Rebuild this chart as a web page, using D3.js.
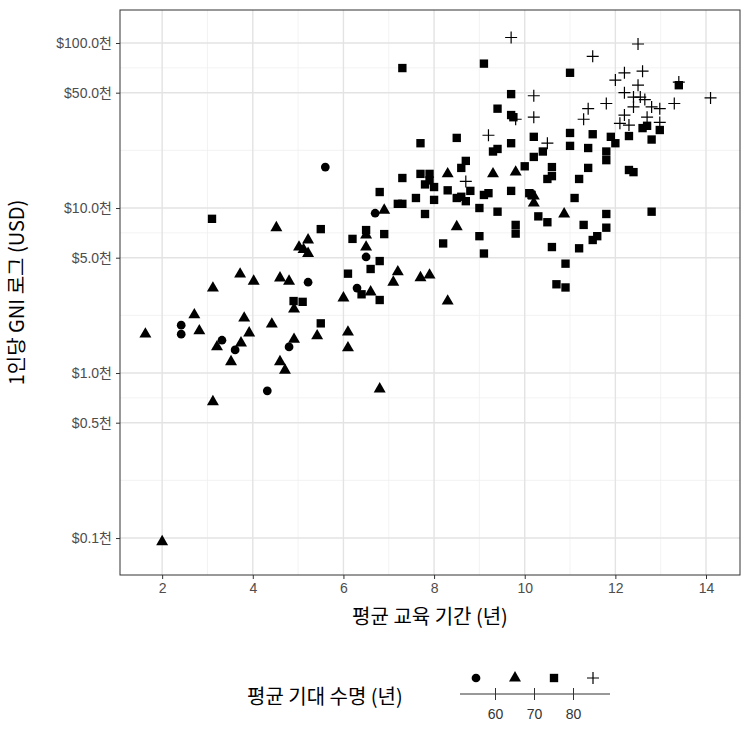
<!DOCTYPE html>
<html><head><meta charset="utf-8">
<script src="https://cdn.jsdelivr.net/npm/d3@7"></script>
<style>body{margin:0;background:#fff}text{font-family:"Noto Sans CJK KR","Noto Sans",sans-serif}</style>
</head><body><svg id="c" width="750" height="750"></svg>
<script>
// Life expectancy bins: 0:<60, 1:60-70, 2:70-80, 3:>80
const lifeBins = ["<60","60-70","70-80",">80"];
const schooling = [
2.42,2.42,3.32,3.61,4.32,4.8,5.22,5.6,6.3,6.5,6.7,
1.63,2.71,2.82,3.12,3.12,3.21,3.52,3.72,3.74,3.81,3.92,4.02,4.42,4.52,4.6,4.6,4.71,4.8,4.91,4.91,5.02,5.12,5.22,5.22,5.42,6.0,6.1,6.1,6.5,6.5,6.6,6.8,6.9,7.1,7.2,7.7,7.9,2.0,8.3,8.3,9.3,9.8,8.5,10.2,10.2,10.87,
3.1,4.9,5.1,5.5,5.5,6.1,6.2,6.4,6.5,6.6,6.8,6.8,6.8,6.9,7.2,7.3,7.3,7.6,7.7,7.8,7.8,7.9,7.9,8.0,8.0,
7.3,9.1,11.0,9.7,9.4,9.7,9.75,8.5,7.7,10.2,9.7,9.3,9.4,11.0,11.5,11.9,12.0,12.3,12.6,12.7,12.8,12.98,13.4,11.0,11.4,11.8,11.8,10.4,10.2,10.0,10.6,10.6,10.5,11.4,11.2,12.3,12.4,8.6,8.7,8.3,8.5,8.6,8.7,8.8,9.0,9.1,9.2,9.4,9.7,10.1,10.15,9.0,9.1,8.2,9.8,9.8,10.3,10.5,10.6,10.9,10.7,10.9,11.2,11.3,11.5,11.6,11.8,11.8,12.8,11.1,
9.7,12.5,11.5,12.0,12.2,12.6,12.5,13.4,14.1,13.3,12.2,12.4,12.55,12.65,12.8,12.98,11.8,12.4,12.2,12.7,12.98,12.1,12.3,11.4,11.3,10.2,10.2,9.8,9.2,10.5,8.7];
const gniK = [
1.95,1.72,1.58,1.38,0.78,1.44,3.55,17.7,3.27,5.05,9.3,
1.72,2.25,1.8,3.27,0.67,1.44,1.17,3.98,1.52,2.15,1.75,3.6,1.98,7.6,3.77,1.17,1.04,3.6,2.44,1.6,5.8,5.6,6.4,5.3,1.68,2.85,1.77,1.42,6.85,5.8,3.1,0.8,9.7,3.55,4.1,3.78,3.92,0.095,2.73,16.1,16.1,16.5,7.7,11.8,10.7,9.2,
8.6,2.73,2.7,7.45,2.0,4.0,6.5,3.0,7.35,4.27,12.5,4.77,2.77,6.95,10.6,10.6,15.2,11.5,16.1,13.9,9.2,16.1,14.7,13.4,11.2,
70.5,75,66,49,40,36.6,35.5,26.6,24.7,27,24.7,22,22.8,28.5,28,27,24.7,27.3,30.5,31.5,26,29.7,55.5,23.8,23.1,22,19.5,22,20.4,17.9,17.7,15.6,15,17.5,15,17,16.5,17.5,19.3,12.8,11.5,11.7,11,12.7,10,12,12.3,9.5,12.7,12.3,12,6.75,5.3,6.1,7.9,7.0,8.9,8.2,5.8,4.6,3.45,3.3,5.7,7.9,6.4,6.75,9.2,7.6,9.5,11.5,
108,98.6,83,59.6,66,67.5,55.5,58,46.5,43,50,47,47,45.4,41,40,43,41,36.6,35.5,33,32.6,31.8,40,34.5,47.9,35.5,34.5,27.6,24.7,14.5];
const lifeBin = [].concat(Array(11).fill(0),Array(46).fill(1),Array(25).fill(2),Array(70).fill(2),Array(31).fill(3));
const xTicks=[2,4,6,8,10,12,14];
const yTicks=[0.1,0.5,1,5,10,50,100];
const yLabels=["$0.1천","$0.5천","$1.0천","$5.0천","$10.0천","$50.0천","$100.0천"];
const legendTicks=[60,70,80];

const svg=d3.select("#c");
const L=120,R=740,T=10,B=575;
const x=d3.scaleLinear().domain([1.07,14.75]).range([L,R]);
const y=d3.scaleLog().domain([0.0597,158.5]).range([B,T]);
const g=svg.append("g");
const xMinor=[1,3,5,7,9,11,13].filter(v=>v>1.07);
const ll=d3.range(yTicks.length-1).map(i=>Math.sqrt(yTicks[i]*yTicks[i+1]));
g.selectAll(".xm").data(xMinor).join("line").attr("x1",d=>x(d)).attr("x2",d=>x(d)).attr("y1",T).attr("y2",B).attr("stroke","#f0f0f0").attr("stroke-width",0.8);
g.selectAll(".ym").data(ll).join("line").attr("y1",d=>y(d)).attr("y2",d=>y(d)).attr("x1",L).attr("x2",R).attr("stroke","#f0f0f0").attr("stroke-width",0.8);
g.selectAll(".xM").data(xTicks).join("line").attr("x1",d=>x(d)).attr("x2",d=>x(d)).attr("y1",T).attr("y2",B).attr("stroke","#e3e3e3").attr("stroke-width",1.4);
g.selectAll(".yM").data(yTicks).join("line").attr("y1",d=>y(d)).attr("y2",d=>y(d)).attr("x1",L).attr("x2",R).attr("stroke","#e3e3e3").attr("stroke-width",1.4);
const xa=svg.append("g").attr("transform",`translate(0,${B})`).call(d3.axisBottom(x).tickValues(xTicks).tickSize(4).tickPadding(4));
const ya=svg.append("g").attr("transform",`translate(${L},0)`).call(d3.axisLeft(y).tickValues(yTicks).tickFormat((d,i)=>yLabels[i]).tickSize(4).tickPadding(4));
[xa,ya].forEach(a=>{a.select(".domain").remove();a.selectAll("line").attr("stroke","#333");a.selectAll("text").attr("fill","#4d4d4d").attr("font-size",14).style("font-family","'Liberation Sans','Noto Sans CJK KR',sans-serif");});
svg.append("rect").attr("x",L).attr("y",T).attr("width",R-L).attr("height",B-T).attr("fill","none").attr("stroke","#333").attr("stroke-width",1);
const shapes=[d3.symbolCircle,d3.symbolTriangle,d3.symbolSquare,d3.symbolCross];
function mark(sel,bin){
  if(bin===3){sel.append("path").attr("d","M-6,0H6M0,-6V6").attr("stroke","#000").attr("stroke-width",1.2).attr("fill","none");}
  else{const sz=[60,62,70][bin];sel.append("path").attr("d",d3.symbol(shapes[bin],sz)()).attr("fill","#000");}
}
const data=schooling.map((s,i)=>({s,g:gniK[i],b:lifeBin[i]}));
svg.append("g").selectAll("g").data(data).join("g").attr("transform",d=>`translate(${x(d.s)},${y(d.g)})`).each(function(d){mark(d3.select(this),d.b);});
svg.append("text").attr("x",(L+R)/2).attr("y",624).attr("text-anchor","middle").attr("font-size",20).attr("fill","#000").text("평균 교육 기간 (년)");
svg.append("text").attr("transform",`translate(24,${(T+B)/2}) rotate(-90)`).attr("text-anchor","middle").attr("font-size",20).attr("fill","#000").text("1인당 GNI 로그 (USD)");
svg.append("text").attr("x",247).attr("y",704).attr("font-size",20).attr("fill","#000").text("평균 기대 수명 (년)");
const lx=[476,515,554,593];
lx.forEach((px,i)=>mark(svg.append("g").attr("transform",`translate(${px},678)`),i));
svg.append("line").attr("x1",460).attr("x2",610).attr("y1",694).attr("y2",694).attr("stroke","#333");
legendTicks.forEach((t,i)=>{const px=(lx[i]+lx[i+1])/2;
  svg.append("line").attr("x1",px).attr("x2",px).attr("y1",688).attr("y2",700).attr("stroke","#333");
  svg.append("text").attr("x",px).attr("y",719).attr("text-anchor","middle").attr("font-size",14).attr("fill","#333").style("font-family","'Liberation Sans',Arial,sans-serif").text(t);});
</script></body></html>
